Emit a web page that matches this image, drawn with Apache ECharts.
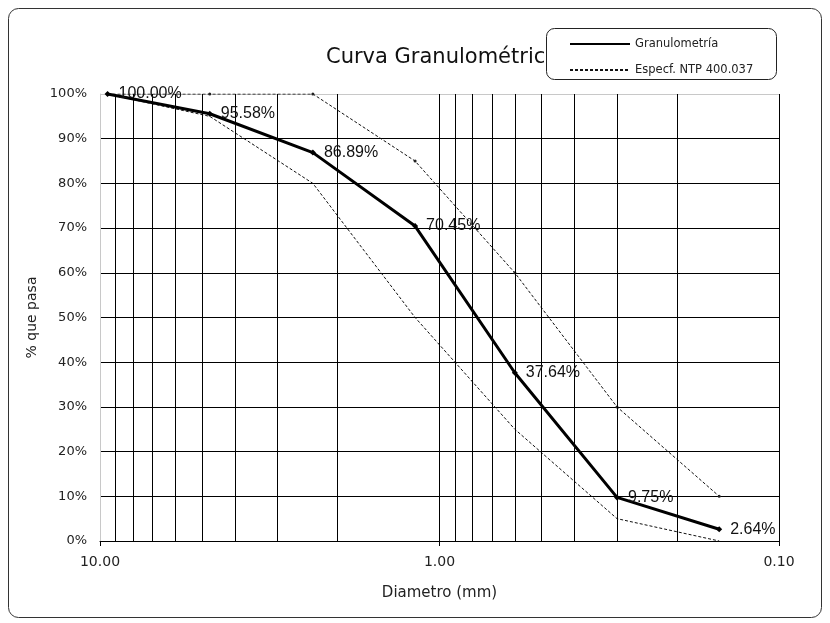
<!DOCTYPE html>
<html>
<head>
<meta charset="utf-8">
<script src="https://cdn.jsdelivr.net/npm/echarts@6/dist/echarts.min.js"></script>
<style>
  html, body { margin: 0; padding: 0; background: #fff; }
  #chart { width: 830px; height: 623px; }
</style>
</head>
<body>
<div id="chart"></div>
<script>
// Sieve openings (mm) and cumulative passing (%)
var sieveSizes = [9.5, 4.75, 2.36, 1.18, 0.6, 0.3, 0.15];
var passing = [100.00, 95.58, 86.89, 70.45, 37.64, 9.75, 2.64];
// NTP 400.037 grading limits for fine aggregate
var specUpper = [100, 100, 100, 85, 60, 30, 10];
var specLower = [100, 95, 80, 50, 25, 5, 0];
// Log-scale vertical grid positions (mm)
var logGrid = [9, 8, 7, 6, 5, 4, 3, 2, 1, 0.9, 0.8, 0.7, 0.6, 0.5, 0.4, 0.3, 0.2, 0.1];
// Percentage ticks
var yTicks = [0, 10, 20, 30, 40, 50, 60, 70, 80, 90, 100];

function pairs(xs, ys) {
  return xs.map(function (x, i) { return [x, ys[i]]; });
}

var axisFont = '"DejaVu Sans", sans-serif';
var labelFont = '"Liberation Sans", Arial, sans-serif';

var splitColors = yTicks.map(function (t, i) { return i === yTicks.length - 1 ? '#c8c8c8' : '#000'; });

var chart = echarts.init(document.getElementById('chart'), null, { renderer: 'canvas' });

chart.setOption({
  animation: false,
  backgroundColor: '#fff',
  title: {
    text: 'Curva Granulométrica',
    left: 321,
    top: 42,
    textStyle: { fontFamily: axisFont, fontSize: 21, fontWeight: 'normal', color: '#111' }
  },
  graphic: [
    {
      type: 'rect',
      shape: { x: 8.5, y: 8.5, width: 813, height: 609, r: 10 },
      style: { fill: 'none', stroke: '#333', lineWidth: 1 },
      silent: true,
      z: 0
    },
    {
      type: 'rect',
      shape: { x: 546.5, y: 28.5, width: 230, height: 51, r: 8 },
      style: { fill: '#fff', stroke: '#222', lineWidth: 1 },
      silent: true,
      z: 50
    }
  ],
  legend: {
    orient: 'vertical',
    left: 569,
    top: 38,
    z: 60,
    itemWidth: 60,
    itemHeight: 12,
    itemGap: 14,
    padding: 0,
    selectedMode: false,
    data: ['Granulometría', 'Especf. NTP 400.037'],
    itemStyle: { color: 'rgba(0,0,0,0)', borderWidth: 0 },
    textStyle: { fontFamily: axisFont, fontSize: 11.5, color: '#222' }
  },
  grid: { left: 100, right: 51, top: 94, bottom: 82, containLabel: false },
  xAxis: {
    type: 'log',
    logBase: 10,
    min: 0.1,
    max: 10,
    inverse: true,
    name: 'Diametro (mm)',
    nameLocation: 'middle',
    nameGap: 45,
    nameTextStyle: { fontFamily: axisFont, fontSize: 15, color: '#222' },
    axisLine: { show: true, onZero: false, lineStyle: { color: '#000', width: 1 } },
    axisTick: { show: true, length: 5, lineStyle: { color: '#000' } },
    axisLabel: {
      fontFamily: axisFont, fontSize: 14, color: '#222', margin: 14,
      formatter: function (v) { return Number(v).toFixed(2); }
    },
    splitLine: { show: false }
  },
  yAxis: {
    type: 'value',
    min: 0,
    max: 100,
    interval: 10,
    name: '% que pasa',
    nameLocation: 'middle',
    nameGap: 58,
    nameRotate: 90,
    nameTextStyle: { fontFamily: axisFont, fontSize: 14, color: '#222' },
    axisLine: { show: true, lineStyle: { color: '#c8c8c8', width: 1 } },
    axisTick: { show: false },
    axisLabel: { fontFamily: axisFont, fontSize: 13, color: '#222', margin: 13, formatter: '{value}%' },
    splitLine: { show: true, lineStyle: { color: splitColors, width: 1 } }
  },
  series: [
    {
      name: 'Especf. NTP 400.037',
      type: 'line',
      data: pairs(sieveSizes, specLower),
      symbol: 'none',
      lineStyle: { color: '#111', width: 1, type: [3, 2] },
      itemStyle: { color: '#111' },
      z: 3,
      markLine: {
        silent: true,
        symbol: ['none', 'none'],
        label: { show: false },
        lineStyle: { color: '#000', type: 'solid', width: 1 },
        emphasis: { disabled: true },
        data: logGrid.map(function (v) { return { xAxis: v }; })
      }
    },
    {
      name: 'Especf. NTP 400.037',
      type: 'line',
      data: pairs(sieveSizes, specUpper),
      symbol: 'circle',
      symbolSize: 3,
      lineStyle: { color: '#111', width: 1, type: [3, 2] },
      itemStyle: { color: '#222' },
      z: 3
    },
    {
      name: 'Granulometría',
      type: 'line',
      data: pairs(sieveSizes, passing),
      symbol: 'diamond',
      symbolSize: 6,
      lineStyle: { color: '#000', width: 3 },
      itemStyle: { color: '#000' },
      z: 5,
      label: {
        show: true,
        position: 'right',
        distance: 8,
        fontFamily: labelFont,
        fontSize: 16,
        color: '#111',
        formatter: function (p) { return p.value[1].toFixed(2) + '%'; }
      }
    }
  ]
});
</script>
</body>
</html>
